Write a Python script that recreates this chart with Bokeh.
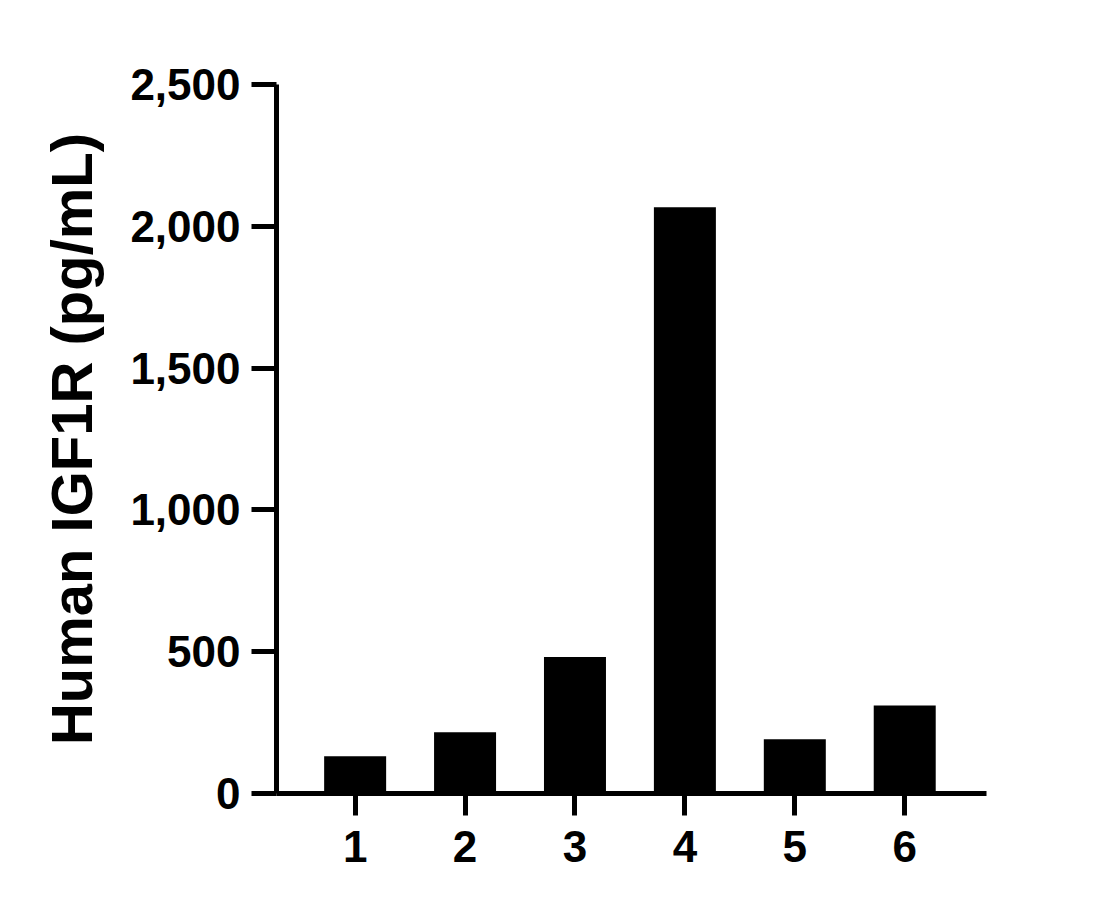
from bokeh.plotting import figure
from bokeh.models import Range1d, FixedTicker, NumeralTickFormatter, ColumnDataSource
from bokeh.embed import file_html
from bokeh.resources import INLINE

categories = ["1", "2", "3", "4", "5", "6"]
values = [131, 216, 481, 2067, 191, 310]
y_ticks = [0, 500, 1000, 1500, 2000, 2500]
y_label = "Human IGF1R (pg/mL)"

xs = [i + 1 for i in range(len(categories))]
src = ColumnDataSource(dict(x=xs, top=values, cat=categories))

FONT = "Liberation Sans"

p = figure(
    frame_width=710, frame_height=709,
    x_range=Range1d(0.2845, 6.744), y_range=Range1d(0, 2500),
    output_backend="svg", toolbar_location=None,
    min_border_left=276, min_border_top=84, min_border_right=114, min_border_bottom=100,
)
p.outline_line_color = None
p.grid.visible = False
p.background_fill_color = "white"
p.border_fill_color = "white"

p.vbar(x="x", top="top", bottom=0, width=0.564, source=src,
       fill_color="black", line_color="black", line_width=0)

# Y axis
ya = p.yaxis[0]
ya.ticker = FixedTicker(ticks=y_ticks)
ya.formatter = NumeralTickFormatter(format="0,0")
ya.axis_line_width = 5
ya.axis_line_color = "black"
ya.major_tick_line_width = 5
ya.major_tick_out = 25
ya.major_tick_in = 0
ya.minor_tick_line_color = None
ya.major_label_text_font = FONT
ya.major_label_text_font_style = "bold"
ya.major_label_text_font_size = "44px"
ya.major_label_text_color = "black"
ya.major_label_standoff = 11
ya.axis_label = y_label
ya.axis_label_text_font = FONT
ya.axis_label_text_font_style = "bold"
ya.axis_label_text_font_size = "58px"
ya.axis_label_text_color = "black"
ya.axis_label_standoff = 23

# X axis
xa = p.xaxis[0]
xa.ticker = FixedTicker(ticks=xs)
xa.major_label_overrides = {x: c for x, c in zip(xs, categories)}
xa.axis_line_width = 5
xa.axis_line_color = "black"
xa.major_tick_line_width = 5
xa.major_tick_out = 22
xa.major_tick_in = 0
xa.minor_tick_line_color = None
xa.major_label_text_font = FONT
xa.major_label_text_font_style = "bold"
xa.major_label_text_font_size = "44px"
xa.major_label_text_color = "black"
xa.major_label_standoff = 15

open("out.html", "w").write(file_html(p, INLINE))
